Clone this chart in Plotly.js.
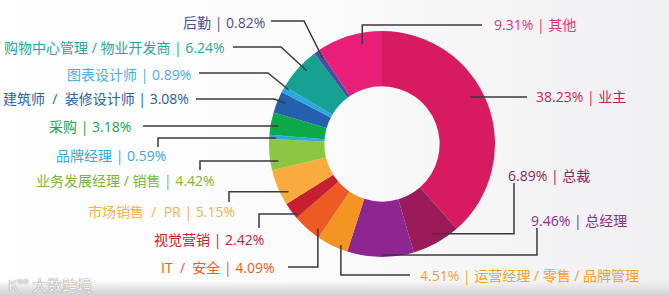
<!DOCTYPE html>
<html><head><meta charset="utf-8">
<script src="https://cdn.plot.ly/plotly-3.0.1.min.js"></script>
<style>
html,body{margin:0;padding:0;}
body{width:669px;height:296px;overflow:hidden;background:
 linear-gradient(to bottom, rgba(0,0,0,0) 0px, rgba(0,0,0,0) 281px, #e4e4e4 288px, #d0d0d0 296px),
 linear-gradient(to right, #ffffff 0%, #fbfbfc 45%, #f0f0f2 100%);}
#chart{width:669px;height:296px;position:relative;}
#wm{position:absolute;left:8px;top:274px;font-family:"Noto Sans CJK SC",sans-serif;font-size:15px;color:rgba(255,255,255,0.95);text-shadow:0 0 1px #8a8a8a,0 0 1px #8a8a8a;letter-spacing:0px;}
</style></head><body><div id="chart"></div><div id="wm">K°° 大数跨境</div><script>
// ---- data ----
const categories = ["业主", "总裁", "总经理", "运营经理 / 零售 / 品牌管理", "IT\u00a0 / \u00a0安全", "视觉营销",
  "市场销售\u00a0 / \u00a0PR", "业务发展经理 / 销售", "品牌经理", "采购", "建筑师\u00a0 / \u00a0装修设计师", "图表设计师",
  "购物中心管理 / 物业开发商", "后勤", "其他"];
const values = [38.23, 6.89, 9.46, 4.51, 4.09, 2.42, 5.15, 4.42, 0.59, 3.18, 3.08, 0.89, 6.24, 0.82, 9.31];

// ---- styles ----
const sliceColors = ["#d81b60", "#9b1b5a", "#8e2590", "#f39423", "#ee5a24", "#c62030", "#f9ac3d", "#8dc640",
  "#27a9e1", "#0ca94b", "#2560ae", "#28a9e1", "#16a195", "#4c4d9e", "#e91e78"];
const labelColors = ["#c81f5e", "#8c1f5c", "#8a2e91", "#f0a030", "#ea5b27", "#c4212f", "#f5b04a", "#7db441",
  "#3aa6df", "#1aa34a", "#2b5ea8", "#4aaee0", "#2aa598", "#4e4b9a", "#e3347a"];

// ---- label layout (pixels) ----
const labelSide = ["R","R","R","R","L","L","L","L","L","L","L","L","L","L","R"];
const labelX = [534, 506, 529, 418, 277, 266, 237, 217, 168, 133, 191, 193, 227, 267, 492];
const labelY = [97, 175, 220, 275, 267, 239, 211, 180, 155, 126, 99, 74, 47, 22, 25];
const leaderMode = ["h","h","h","v","v","h","h","h","h","h","d","d","d","d","v"];
const anchorFrac = [0.447, 0.475, 0.478, 0.26, 0.2, 0.15, 0.27, 0.26, 0.3, 0.45, 0.6, 0.85, 0.6, 0.7, 0.67];
const anchorR = [100, 103, 111, 109, 106, 110, 105, 105, 106, 105, 105, 108, 105, 104, 102];
const elbowX = [527, 514, 537, null, null, 259, 229, 200, 158, 143, 274, 268, 281, 304, null];
const lineY = [null, 183, 228, 275, 267, 228, 202, 170, 147, null, 99, 73, 47, 21, 25];
const endX = [null, null, null, 410, 288, null, null, null, null, null, 196, 199, 233, 271, 482];

const W = 669, H = 296, cx = 382, cy = 144, R = 113;
const px = x => x / W, py = y => 1 - y / H;

const total = values.reduce((a, b) => a + b, 0);
let cum = 0;
const shapes = [], annotations = [];
values.forEach((v, i) => {
  const a0 = cum / total * 360, a1 = (cum + v) / total * 360;
  cum += v;
  const th = (a0 + anchorFrac[i] * (a1 - a0)) * Math.PI / 180;
  const ax = cx + anchorR[i] * Math.sin(th), ay = cy - anchorR[i] * Math.cos(th);
  let pts = [[ax, ay]];
  if (leaderMode[i] === "h") {
    pts.push([elbowX[i], ay]);
    if (lineY[i] !== null) pts.push([elbowX[i], lineY[i]]);
  } else if (leaderMode[i] === "v") {
    pts.push([ax, lineY[i]]);
    pts.push([endX[i], lineY[i]]);
  } else {
    pts.push([elbowX[i], lineY[i]]);
    pts.push([endX[i], lineY[i]]);
  }
  const path = pts.map((p, k) => (k ? "L" : "M") + px(p[0]).toFixed(5) + "," + py(p[1]).toFixed(5)).join(" ");
  shapes.push({type: "path", xref: "paper", yref: "paper", path: path, line: {color: "#3a3a3a", width: 1.5}});
  const pct = v.toFixed(2) + "%";
  const txt = labelSide[i] === "L" ? categories[i] + " | " + pct : pct + " | " + categories[i];
  annotations.push({
    xref: "paper", yref: "paper", x: px(labelX[i]), y: py(labelY[i]),
    xanchor: labelSide[i] === "L" ? "right" : "left", yanchor: "middle",
    text: txt, showarrow: false,
    font: {family: "Open Sans, 'Noto Sans CJK SC', sans-serif", size: 14, color: labelColors[i]}
  });
});

const trace = {
  type: "pie",
  labels: categories,
  values: values,
  sort: false,
  direction: "clockwise",
  rotation: 0,
  hole: 0.51,
  textinfo: "none",
  hoverinfo: "label+percent",
  marker: {colors: sliceColors, line: {width: 0}},
  domain: {x: [(cx - R) / W, (cx + R) / W], y: [(H - cy - R) / H, (H - cy + R) / H]},
  showlegend: false
};

Plotly.newPlot("chart", [trace], {
  width: W, height: H,
  margin: {l: 0, r: 0, t: 0, b: 0},
  paper_bgcolor: "rgba(0,0,0,0)",
  plot_bgcolor: "rgba(0,0,0,0)",
  showlegend: false,
  shapes: shapes,
  annotations: annotations
}, {displayModeBar: false, staticPlot: true});
</script></body></html>
